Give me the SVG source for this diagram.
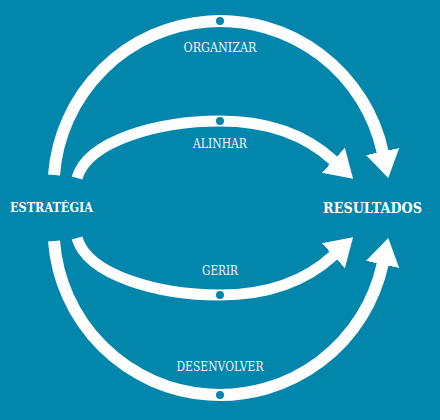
<svg xmlns="http://www.w3.org/2000/svg" width="440" height="420" viewBox="0 0 440 420">
<style>
.bg{fill:#0386ac}
.arc{fill:none;stroke:#ffffff;stroke-linecap:butt}
.outer{stroke-width:12}
.inner{stroke-width:11}
.dot{fill:#0386ac}
.lbl{font-family:"DejaVu Serif","Liberation Serif",serif;font-size:12.5px;fill:#f2f7f9;text-anchor:middle}
.node{font-family:"DejaVu Serif","Liberation Serif",serif;font-weight:bold;fill:#ffffff}
</style>
<defs>
<marker id="ah" markerUnits="userSpaceOnUse" viewBox="0 -18 29 36" refX="1" refY="0" markerWidth="29" markerHeight="36" orient="auto">
<path d="M0,-17 L27,0 L0,17 Z" fill="#ffffff"/>
</marker>
</defs>
<rect class="bg" x="0" y="0" width="440" height="420"/>
<g id="connectors">
<path class="arc outer" d="M54,175 A166.5,166.5 0 0 1 382.8,152.5" marker-end="url(#ah)"/>
<path class="arc inner" d="M77,178 C88,140 160,121 220,121 C270,121 306,135 334,161" marker-end="url(#ah)"/>
<path class="arc inner" d="M77,238 C88,276 160,295 220,295 C270,295 306,281 334,255" marker-end="url(#ah)"/>
<path class="arc outer" d="M54,241 A166.5,166.5 0 0 0 382.8,263.5" marker-end="url(#ah)"/>
<circle class="dot" cx="220" cy="21" r="4"/>
<circle class="dot" cx="220" cy="121" r="4"/>
<circle class="dot" cx="220" cy="295" r="4"/>
<circle class="dot" cx="220" cy="395" r="4"/>
<text class="lbl" x="220" y="51.5" textLength="73" lengthAdjust="spacingAndGlyphs">ORGANIZAR</text>
<text class="lbl" x="220" y="148" textLength="54" lengthAdjust="spacingAndGlyphs">ALINHAR</text>
<text class="lbl" x="220" y="275" textLength="36" lengthAdjust="spacingAndGlyphs">GERIR</text>
<text class="lbl" x="220" y="371" textLength="87" lengthAdjust="spacingAndGlyphs">DESENVOLVER</text>
</g>
<g id="node-estrategia">
<text class="node" x="10" y="212" font-size="13" textLength="83" lengthAdjust="spacingAndGlyphs">ESTRATÉGIA</text>
</g>
<g id="node-resultados">
<text class="node" x="323" y="213" font-size="14.5" textLength="99" lengthAdjust="spacingAndGlyphs">RESULTADOS</text>
</g>
</svg>
